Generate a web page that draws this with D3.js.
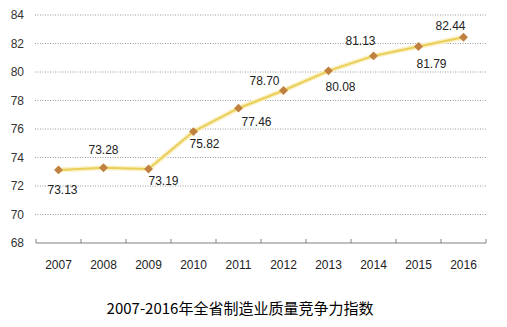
<!DOCTYPE html>
<html>
<head>
<meta charset="utf-8">
<script src="https://cdn.jsdelivr.net/npm/d3@7/dist/d3.min.js"></script>
<style>
  html, body { margin: 0; padding: 0; background: #fff; }
  svg { display: block; }
</style>
</head>
<body>
<svg id="chart" width="507" height="327"></svg>
<script>
// Manufacturing quality competitiveness index, 2007–2016
const years = ["2007", "2008", "2009", "2010", "2011", "2012", "2013", "2014", "2015", "2016"];
const indexValues = [73.13, 73.28, 73.19, 75.82, 77.46, 78.70, 80.08, 81.13, 81.79, 82.44];
const yTicks = [68, 70, 72, 74, 76, 78, 80, 82, 84];
const titleText = "2007-2016年全省制造业质量竞争力指数";

// ---- layout ----
const svg = d3.select("#chart");
const font = "'Liberation Sans', 'Noto Sans CJK SC', sans-serif";

// value-label nudges (dx, dy) from each point, keeping labels clear of the line
const labelNudge = [[4, 20], [0, -18], [15, 12], [11, 12], [18, 14],
                    [-19, -10], [12, 16], [-13, -15], [13, 17], [-13, -11]];

const x = d3.scaleBand().domain(years).range([36, 486]);
const y = d3.scaleLinear().domain([68, 84]).range([243, 15]);

// dotted horizontal gridlines
svg.append("g")
  .selectAll("line")
  .data(yTicks.filter(d => d !== 68))
  .join("line")
  .attr("x1", 35).attr("x2", 486)
  .attr("y1", d => y(d)).attr("y2", d => y(d))
  .attr("stroke", "#9a9a9a")
  .attr("stroke-width", 1)
  .attr("stroke-dasharray", "1,1.5");

// y-axis labels
svg.append("g")
  .selectAll("text")
  .data(yTicks)
  .join("text")
  .attr("x", 24)
  .attr("y", d => y(d))
  .attr("dy", "0.35em")
  .attr("text-anchor", "end")
  .attr("font-family", font)
  .attr("font-size", 12)
  .attr("fill", "#333")
  .text(d => d);

// category axis with tick marks at band boundaries
const axisG = svg.append("g");
axisG.append("line")
  .attr("x1", 36).attr("x2", 486)
  .attr("y1", y(68)).attr("y2", y(68))
  .attr("stroke", "#808080").attr("stroke-width", 1);
const boundaries = years.map(d => x(d)).concat([x(years[years.length - 1]) + x.bandwidth()]);
axisG.selectAll("line.tick")
  .data(boundaries)
  .join("line")
  .attr("class", "tick")
  .attr("x1", d => d).attr("x2", d => d)
  .attr("y1", y(68) - 4).attr("y2", y(68))
  .attr("stroke", "#808080").attr("stroke-width", 1);
axisG.selectAll("text")
  .data(years)
  .join("text")
  .attr("x", d => x(d) + x.bandwidth() / 2)
  .attr("y", 265)
  .attr("dy", "0.35em")
  .attr("text-anchor", "middle")
  .attr("font-family", font)
  .attr("font-size", 12)
  .attr("fill", "#222")
  .text(d => d);

const pts = years.map((yr, i) => ({ yr, v: indexValues[i], nudge: labelNudge[i] }));
const cx = d => x(d.yr) + x.bandwidth() / 2;

const line = d3.line().x(cx).y(d => y(d.v));

// soft halo under the line
svg.append("path")
  .datum(pts)
  .attr("d", line)
  .attr("fill", "none")
  .attr("stroke", "#fbf0c4")
  .attr("stroke-width", 5)
  .attr("stroke-linejoin", "round");
svg.append("path")
  .datum(pts)
  .attr("d", line)
  .attr("fill", "none")
  .attr("stroke", "#e9cf5a")
  .attr("stroke-width", 2)
  .attr("stroke-linejoin", "round");

// diamond markers
svg.append("g")
  .selectAll("path")
  .data(pts)
  .join("path")
  .attr("transform", d => `translate(${cx(d)},${y(d.v)})`)
  .attr("d", d3.symbol(d3.symbolDiamond2, 50)())
  .attr("fill", "#c0803f");

// value labels
svg.append("g")
  .selectAll("text")
  .data(pts)
  .join("text")
  .attr("x", d => cx(d) + d.nudge[0])
  .attr("y", d => y(d.v) + d.nudge[1])
  .attr("dy", "0.35em")
  .attr("text-anchor", "middle")
  .attr("font-family", font)
  .attr("font-size", 12)
  .attr("fill", "#222")
  .text(d => d.v.toFixed(2));

// chart title
svg.append("text")
  .attr("x", 240)
  .attr("y", 309)
  .attr("dy", "0.35em")
  .attr("text-anchor", "middle")
  .attr("font-family", "'Noto Sans CJK SC', sans-serif")
  .attr("font-size", 15)
  .attr("fill", "#000")
  .text(titleText);
</script>
</body>
</html>
